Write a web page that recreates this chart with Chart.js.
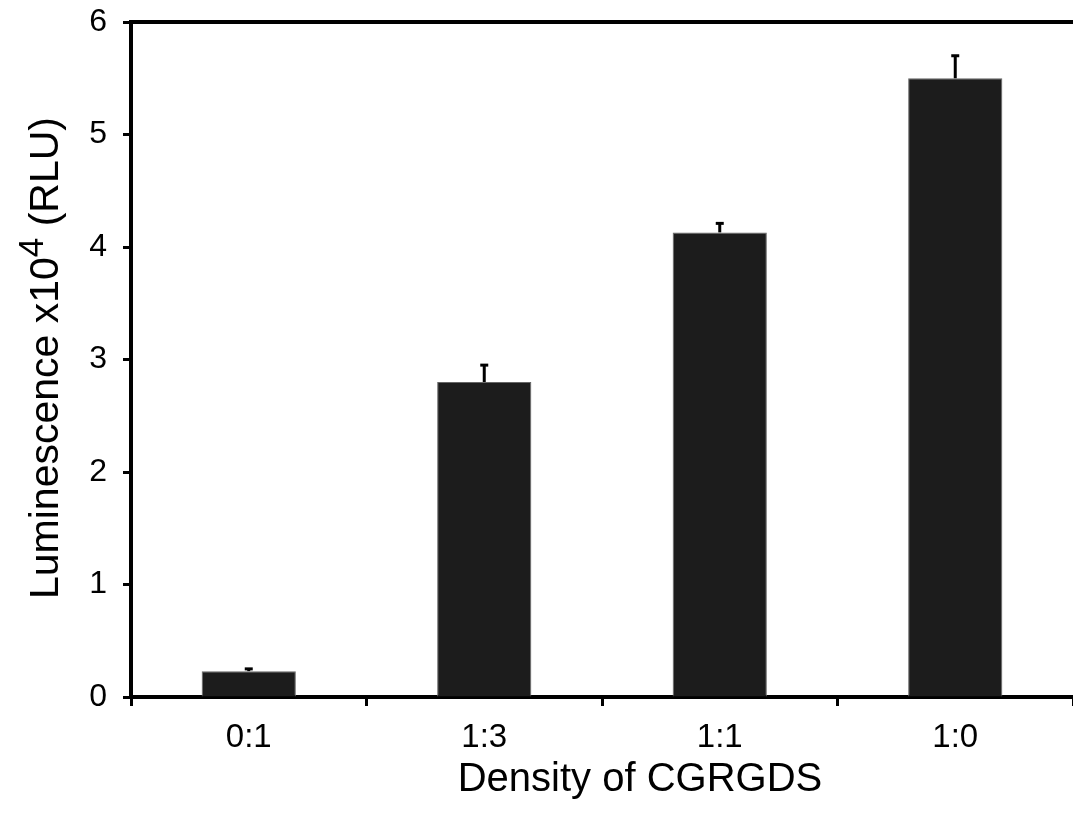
<!DOCTYPE html>
<html>
<head>
<meta charset="utf-8">
<script src="https://cdn.jsdelivr.net/npm/chart.js@4"></script>
<style>
  body { margin: 0; background: #fff; }
</style>
</head>
<body>
<canvas id="myChart" width="1073" height="828"></canvas>
<script>
// 데이터
var labels = ['0:1', '1:3', '1:1', '1:0'];
var values = [0.23, 2.80, 4.13, 5.50];
var errUp = [0.02, 0.15, 0.08, 0.20];
var yTicks = [0, 1, 2, 3, 4, 5, 6];

var FONT = '"Liberation Sans", Arial, sans-serif';

// 에러바 + 위 테두리 + 축 제목
var extraDraw = {
  id: 'extraDraw',
  afterDatasetsDraw: function(chart) {
    var ctx = chart.ctx;
    var y = chart.scales.y;
    var meta = chart.getDatasetMeta(0);
    ctx.save();
    ctx.strokeStyle = '#000';
    ctx.lineWidth = 3;
    for (var i = 0; i < values.length; i++) {
      var cx = meta.data[i].x;
      var top = y.getPixelForValue(values[i] + errUp[i]);
      var base = y.getPixelForValue(values[i]);
      ctx.beginPath();
      ctx.moveTo(cx, base);
      ctx.lineTo(cx, top);
      ctx.stroke();
      ctx.beginPath();
      ctx.moveTo(cx - 4, top);
      ctx.lineTo(cx + 4, top);
      ctx.stroke();
    }
    var area = chart.chartArea;
    ctx.lineWidth = 4;
    ctx.beginPath();
    ctx.moveTo(area.left - 2, area.top);
    ctx.lineTo(chart.width, area.top);
    ctx.stroke();
    ctx.restore();
  },
  afterDraw: function(chart) {
    var ctx = chart.ctx;
    ctx.save();
    ctx.fillStyle = '#000';
    // x축 제목
    ctx.font = '40px ' + FONT;
    ctx.textAlign = 'center';
    ctx.textBaseline = 'alphabetic';
    ctx.fillText('Density of CGRGDS', 640, 791);
    // y축 제목 (위첨자 4)
    ctx.translate(58, 358);
    ctx.rotate(-Math.PI / 2);
    ctx.textAlign = 'left';
    var p1 = 'Luminescence x10', p2 = '4', p3 = ' (RLU)';
    ctx.font = '41px ' + FONT;
    var w1 = ctx.measureText(p1).width, w3 = ctx.measureText(p3).width;
    ctx.font = '35px ' + FONT;
    var w2 = ctx.measureText(p2).width;
    var start = -(w1 + w2 + w3) / 2;
    ctx.font = '41px ' + FONT;
    ctx.fillText(p1, start, 0);
    ctx.font = '35px ' + FONT;
    ctx.fillText(p2, start + w1, -15);
    ctx.font = '41px ' + FONT;
    ctx.fillText(p3, start + w1 + w2, 0);
    ctx.restore();
  }
};

var ctx = document.getElementById('myChart').getContext('2d');
var myChart = new Chart(ctx, {
  type: 'bar',
  data: {
    labels: labels,
    datasets: [{
      data: values,
      backgroundColor: '#1c1c1c',
      borderColor: '#666',
      borderWidth: 1,
      categoryPercentage: 1,
      barPercentage: 0.4
    }]
  },
  options: {
    responsive: false,
    animation: false,
    layout: { padding: { top: 22, right: 0, bottom: 0, left: 0 } },
    plugins: {
      legend: { display: false },
      tooltip: { enabled: false }
    },
    scales: {
      x: {
        offset: true,
        afterFit: function(s) { s.height = 131; s.paddingLeft = 0; s.paddingRight = 0; },
        grid: {
          offset: true,
          drawOnChartArea: false,
          drawTicks: true,
          tickLength: 9,
          tickWidth: 3,
          tickColor: '#000'
        },
        border: { display: true, color: '#000', width: 4 },
        ticks: { color: '#000', font: { size: 33, family: FONT }, padding: 12 }
      },
      y: {
        min: 0,
        max: 6,
        afterFit: function(s) { s.width = 131; s.paddingTop = 0; s.paddingBottom = 0; },
        afterBuildTicks: function(s) { s.ticks = yTicks.map(function(v) { return { value: v }; }); },
        grid: {
          drawOnChartArea: false,
          drawTicks: true,
          tickLength: 8,
          tickWidth: 3,
          tickColor: '#000'
        },
        border: { display: true, color: '#000', width: 4 },
        ticks: { color: '#000', font: { size: 32, family: FONT }, padding: 16 }
      }
    }
  },
  plugins: [extraDraw]
});
</script>
</body>
</html>
